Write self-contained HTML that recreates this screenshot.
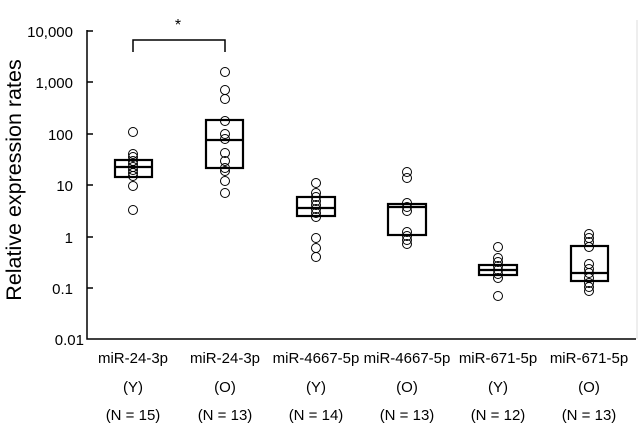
<!DOCTYPE html>
<html><head><meta charset="utf-8"><style>body{margin:0;background:#fff}svg{display:block}</style></head><body>
<svg width="639" height="426" xmlns="http://www.w3.org/2000/svg" style="font-family:'Liberation Sans',sans-serif" font-size="15" fill="#000">
<rect width="639" height="426" fill="#fff"/>
<line x1="637" y1="20" x2="637" y2="339" stroke="#ddd" stroke-width="1"/>
<path d="M87,30 V339 H636" stroke="#000" stroke-width="1.5" fill="none"/>
<g stroke="#000" stroke-width="1.5">
<line x1="87" y1="31" x2="93" y2="31"/><line x1="87" y1="82" x2="93" y2="82"/><line x1="87" y1="134" x2="93" y2="134"/><line x1="87" y1="185" x2="93" y2="185"/><line x1="87" y1="237" x2="93" y2="237"/><line x1="87" y1="288" x2="93" y2="288"/>
</g>
<g text-anchor="end">
<text x="73" y="37">10,000</text><text x="73" y="88">1,000</text><text x="73" y="140">100</text><text x="73" y="191">10</text><text x="73" y="243">1</text><text x="73" y="294">0.1</text><text x="84" y="345">0.01</text>
</g>
<text transform="translate(21,180) rotate(-90)" text-anchor="middle" font-size="21.5">Relative expression rates</text>
<path d="M133,52 V40 H225 V52" stroke="#000" stroke-width="1.5" fill="none"/>
<text x="178" y="30" text-anchor="middle" font-size="16">*</text>
<g fill="none" stroke="#000" stroke-width="1">
<circle cx="133" cy="132" r="4.5"/><circle cx="133" cy="154" r="4.5"/><circle cx="133" cy="157" r="4.5"/><circle cx="133" cy="161" r="4.5"/><circle cx="133" cy="164" r="4.5"/><circle cx="133" cy="167" r="4.5"/><circle cx="133" cy="170" r="4.5"/><circle cx="133" cy="173" r="4.5"/><circle cx="133" cy="176" r="4.5"/><circle cx="133" cy="186" r="4.5"/><circle cx="133" cy="210" r="4.5"/>
<circle cx="225" cy="72" r="4.5"/><circle cx="225" cy="90" r="4.5"/><circle cx="225" cy="99" r="4.5"/><circle cx="225" cy="121" r="4.5"/><circle cx="225" cy="134" r="4.5"/><circle cx="225" cy="139" r="4.5"/><circle cx="225" cy="153" r="4.5"/><circle cx="225" cy="161" r="4.5"/><circle cx="225" cy="168" r="4.5"/><circle cx="225" cy="171" r="4.5"/><circle cx="225" cy="181" r="4.5"/><circle cx="225" cy="193" r="4.5"/>
<circle cx="316" cy="183" r="4.5"/><circle cx="316" cy="193" r="4.5"/><circle cx="316" cy="197" r="4.5"/><circle cx="316" cy="201" r="4.5"/><circle cx="316" cy="205" r="4.5"/><circle cx="316" cy="209" r="4.5"/><circle cx="316" cy="213" r="4.5"/><circle cx="316" cy="217" r="4.5"/><circle cx="316" cy="238" r="4.5"/><circle cx="316" cy="248" r="4.5"/><circle cx="316" cy="257" r="4.5"/>
<circle cx="407" cy="172" r="4.5"/><circle cx="407" cy="178" r="4.5"/><circle cx="407" cy="203" r="4.5"/><circle cx="407" cy="207" r="4.5"/><circle cx="407" cy="211" r="4.5"/><circle cx="407" cy="232" r="4.5"/><circle cx="407" cy="236" r="4.5"/><circle cx="407" cy="240" r="4.5"/><circle cx="407" cy="244" r="4.5"/>
<circle cx="498" cy="247" r="4.5"/><circle cx="498" cy="258" r="4.5"/><circle cx="498" cy="262" r="4.5"/><circle cx="498" cy="266" r="4.5"/><circle cx="498" cy="270" r="4.5"/><circle cx="498" cy="274" r="4.5"/><circle cx="498" cy="278" r="4.5"/><circle cx="498" cy="296" r="4.5"/>
<circle cx="589" cy="234" r="4.5"/><circle cx="589" cy="238" r="4.5"/><circle cx="589" cy="242" r="4.5"/><circle cx="589" cy="247" r="4.5"/><circle cx="589" cy="264" r="4.5"/><circle cx="589" cy="269" r="4.5"/><circle cx="589" cy="273" r="4.5"/><circle cx="589" cy="278" r="4.5"/><circle cx="589" cy="283" r="4.5"/><circle cx="589" cy="287" r="4.5"/><circle cx="589" cy="291" r="4.5"/>
</g>
<g fill="none" stroke="#000" stroke-width="2.2">
<rect x="115" y="160" width="37" height="17"/><line x1="115" y1="167" x2="152" y2="167"/>
<rect x="206" y="120" width="37" height="48"/><line x1="206" y1="140" x2="243" y2="140"/>
<rect x="297" y="197" width="38" height="19"/><line x1="297" y1="208" x2="335" y2="208"/>
<rect x="388" y="204" width="38" height="31"/><line x1="388" y1="207" x2="426" y2="207"/>
<rect x="479" y="265" width="38" height="10"/><line x1="479" y1="270" x2="517" y2="270"/>
<rect x="571" y="246" width="37" height="35"/><line x1="571" y1="273" x2="608" y2="273"/>
</g>
<g text-anchor="middle">
<text x="133" y="363">miR-24-3p</text><text x="133" y="392">(Y)</text><text x="133" y="420">(N = 15)</text>
<text x="225" y="363">miR-24-3p</text><text x="225" y="392">(O)</text><text x="225" y="420">(N = 13)</text>
<text x="316" y="363">miR-4667-5p</text><text x="316" y="392">(Y)</text><text x="316" y="420">(N = 14)</text>
<text x="407" y="363">miR-4667-5p</text><text x="407" y="392">(O)</text><text x="407" y="420">(N = 13)</text>
<text x="498" y="363">miR-671-5p</text><text x="498" y="392">(Y)</text><text x="498" y="420">(N = 12)</text>
<text x="589" y="363">miR-671-5p</text><text x="589" y="392">(O)</text><text x="589" y="420">(N = 13)</text>
</g>
</svg>
</body></html>
